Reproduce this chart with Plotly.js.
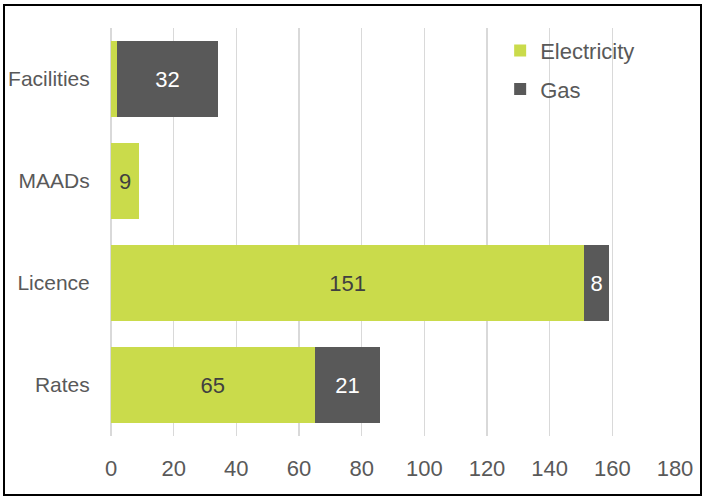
<!DOCTYPE html>
<html>
<head>
<meta charset="utf-8">
<script src="https://cdn.plot.ly/plotly-3.0.1.min.js"></script>
<style>
html,body{margin:0;padding:0;background:#fff;}
#wrap{position:relative;width:705px;height:498px;}
#chart{position:absolute;left:0;top:0;width:705px;height:498px;}
#frame{position:absolute;left:3px;top:4px;width:699px;height:492px;border:2px solid #000;box-sizing:border-box;pointer-events:none;}
</style>
</head>
<body>
<div id="wrap"><div id="chart"></div><div id="frame"></div></div>
<script>
var categories = ["Rates", "Licence", "MAADs", "Facilities"];
var electricity = [65, 151, 9, 2];
var gas = [21, 8, 0, 32];
var electricityLabels = ["65", "151", "9", ""];
var gasLabels = ["21", "8", "", "32"];
var xTicks = [0, 20, 40, 60, 80, 100, 120, 140, 160, 180];

var font = "Liberation Sans, Arial, sans-serif";
var traces = [
  {
    type: "bar", orientation: "h", name: "Electricity",
    y: categories, x: electricity,
    marker: {color: "#cadb4b"},
    text: electricityLabels, textposition: "inside", insidetextanchor: "middle",
    textfont: {family: font, size: 22, color: "#404040"},
    legendgroup: "e", hoverinfo: "none"
  },
  {
    type: "bar", orientation: "h", name: "Gas",
    y: categories, x: gas,
    marker: {color: "#595959"},
    text: gasLabels, textposition: "inside", insidetextanchor: "middle",
    textfont: {family: font, size: 22, color: "#ffffff"},
    legendgroup: "g", hoverinfo: "none"
  }
];

var layout = {
  width: 705, height: 498,
  margin: {l: 111, r: 30, t: 28, b: 62},
  barmode: "stack",
  bargap: 0.26,
  paper_bgcolor: "#fff", plot_bgcolor: "#fff",
  font: {family: font, color: "#595959"},
  xaxis: {
    range: [0, 180], tickvals: xTicks, ticktext: xTicks.map(String),
    showgrid: true, gridcolor: "#d9d9d9", gridwidth: 1.5,
    zeroline: true, zerolinecolor: "#d9d9d9", zerolinewidth: 1.5,
    showline: false,
    ticks: "outside", ticklen: 13, tickcolor: "rgba(0,0,0,0)",
    tickfont: {family: font, size: 22, color: "#595959"},
    fixedrange: true
  },
  yaxis: {
    categoryorder: "array", categoryarray: categories,
    showgrid: false, zeroline: false, showline: false,
    ticks: "outside", ticklen: 16, tickcolor: "rgba(0,0,0,0)",
    tickfont: {family: font, size: 21, color: "#595959"},
    fixedrange: true
  },
  showlegend: true,
  legend: {
    x: 0.69, y: 0.996, xanchor: "left", yanchor: "top",
    bgcolor: "rgba(0,0,0,0)",
    font: {family: font, size: 22, color: "#595959"},
    traceorder: "grouped", tracegroupgap: 7
  }
};

Plotly.newPlot("chart", traces, layout, {displayModeBar: false, staticPlot: true});
</script>
</body>
</html>
